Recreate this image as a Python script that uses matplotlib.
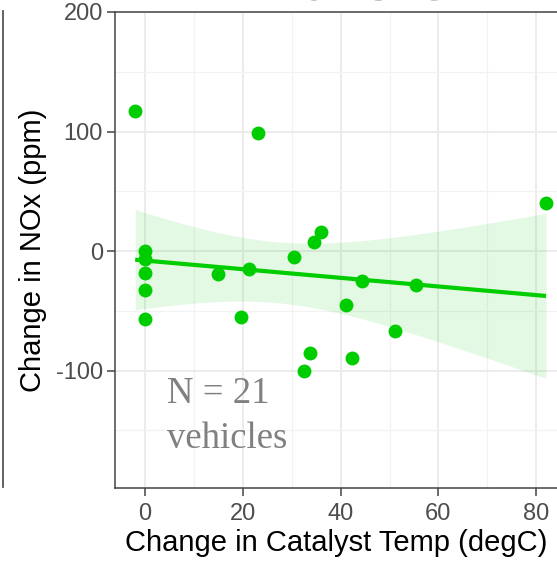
import numpy as np
import matplotlib
matplotlib.use("Agg")
import matplotlib.pyplot as plt
from matplotlib.lines import Line2D
from matplotlib.ticker import MultipleLocator, FuncFormatter

# change in catalyst temp (degC) vs change in NOx (ppm), one point per vehicle
temp_change = [-2.0, 23.2, 82.0, 35.9, 34.6, 30.5, 0.0, 0.0, 0.0, 0.0, 0.0,
               15.0, 21.3, 19.6, 44.4, 55.4, 41.2, 51.1, 33.7, 42.4, 32.6]
nox_change = [117, 98.5, 40.5, 16.2, 7.5, -4.7, 0.3, -6.7, -18.7, -32.9, -56.6,
              -19.2, -15.3, -55.5, -25.4, -28.2, -44.9, -67.2, -85.1, -89.8, -100.1]
x_ticks = [0, 20, 40, 60, 80]
y_ticks = [-100, 0, 100, 200]
title = "Euro 6"
note_lines = ["N = 21", "vehicles"]

x = np.array(temp_change)
y = np.array(nox_change)
n = len(x)

# linear fit with 95% confidence band (like geom_smooth(method="lm"))
slope, intercept = np.polyfit(x, y, 1)
xs = np.linspace(x.min(), x.max(), 100)
ys = intercept + slope * xs
resid = y - (intercept + slope * x)
s = np.sqrt(np.sum(resid ** 2) / (n - 2))
sxx = np.sum((x - x.mean()) ** 2)
t_crit = 2.093  # t(0.975, df=19)
se = s * np.sqrt(1.0 / n + (xs - x.mean()) ** 2 / sxx)

green = "#00CD00"

fig = plt.figure(figsize=(5.57, 5.63), dpi=100)
ax = fig.add_axes([115 / 557, 75 / 563, 442 / 557, 476 / 563])

ax.fill_between(xs, ys - t_crit * se, ys + t_crit * se, color=green, alpha=0.11, lw=0, zorder=2)
ax.plot(xs, ys, color=green, lw=3, zorder=3, solid_capstyle="butt")
ax.scatter(x, y, s=100, color=green, lw=0, zorder=4)

ax.set_xlim(-6.13, 84.25)
ax.set_ylim(-198.3, 200)
ax.set_xticks(x_ticks)
ax.set_yticks(y_ticks)
ax.yaxis.set_major_formatter(FuncFormatter(lambda v, p: "%d" % v))
ax.xaxis.set_minor_locator(MultipleLocator(10))
ax.yaxis.set_minor_locator(MultipleLocator(50))
ax.grid(which="major", color="#EBEBEB", lw=1.3, zorder=0)
ax.grid(which="minor", color="#F2F2F2", lw=0.9, zorder=0)
ax.set_axisbelow(True)

for side in ["left", "bottom", "top"]:
    ax.spines[side].set_color("#444444")
    ax.spines[side].set_linewidth(1.1)
ax.spines["right"].set_visible(False)

ax.tick_params(which="major", length=5.8, width=1.1, color="#444444",
               labelsize=17, labelcolor="#4D4D4D")
ax.tick_params(axis="x", which="major", pad=5)
ax.tick_params(axis="y", which="major", pad=3)
ax.tick_params(which="minor", length=0)
for lab in ax.get_xticklabels() + ax.get_yticklabels():
    lab.set_fontfamily("Liberation Sans")

ax.set_xlabel("Change in Catalyst Temp (degC)", fontsize=21, family="Liberation Sans", labelpad=3)
ax.set_ylabel("Change in NOx (ppm)", fontsize=21, family="Liberation Sans", labelpad=6)

ax.text(4.5, -127.2, note_lines[0], family="Liberation Serif", fontsize=26.5,
        color="#808080", va="baseline", ha="left", zorder=5)
ax.text(4.5, -164.9, note_lines[1], family="Liberation Serif", fontsize=26.5,
        color="#808080", va="baseline", ha="left", zorder=5)

# title cut off at the top of the crop
fig.text(353 / 557, 1 - 0.5 / 563, title, family="Liberation Serif", fontsize=52,
         color="#808080", ha="center", va="baseline")

# edge of a neighbouring panel on the left
fig.add_artist(Line2D([2.5 / 557, 2.5 / 557], [1 - 11 / 563, 1 - 487 / 563],
                      color="#555555", lw=1.3))

fig.savefig("out.png", dpi=100)
